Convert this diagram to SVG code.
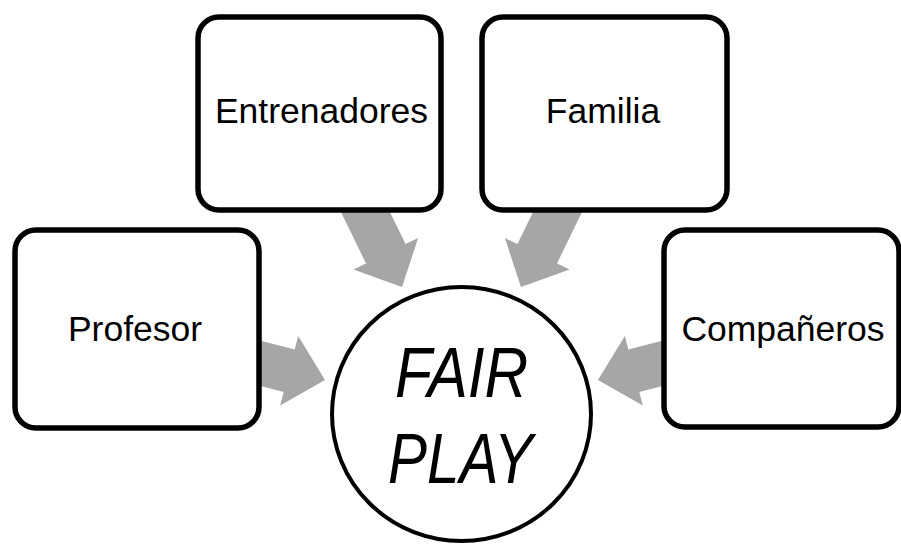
<svg xmlns="http://www.w3.org/2000/svg" width="901" height="545" viewBox="0 0 901 545">
  <style>
    .box { fill: #ffffff; stroke: #000000; stroke-width: 5.5; }
    .circ { fill: #ffffff; stroke: #000000; stroke-width: 4; }
    .lbl { font-family: "Liberation Sans", Arial, sans-serif; font-size: 35.5px; fill: #000000; text-anchor: middle; }
    .big { font-family: "Liberation Sans", Arial, sans-serif; font-size: 70px; font-style: italic; fill: #000000; text-anchor: middle; }
    .arrow { fill: #A6A6A6; }
  </style>
  <defs>
    <path id="blockArrow" class="arrow" d="M0,0 L-37,-36 L-37,-22 L-140,-22 L-140,22 L-37,22 L-37,36 Z"/>
  </defs>
  <rect width="901" height="545" fill="#ffffff"/>
  <g id="connectors">
    <use href="#blockArrow" transform="translate(402,287) rotate(64)"/>
    <use href="#blockArrow" transform="translate(521,287) rotate(116)"/>
    <use href="#blockArrow" transform="translate(325,380) rotate(14.5)"/>
    <use href="#blockArrow" transform="translate(598,380) rotate(165.5)"/>
  </g>
  <g id="entrenadores">
    <rect class="box" x="198" y="17" width="243" height="193" rx="21"/>
    <text class="lbl" x="321.5" y="123">Entrenadores</text>
  </g>
  <g id="familia">
    <rect class="box" x="482" y="17" width="245" height="193" rx="21"/>
    <text class="lbl" x="603" y="123">Familia</text>
  </g>
  <g id="profesor">
    <rect class="box" x="15" y="230" width="244" height="198" rx="21"/>
    <text class="lbl" x="135" y="341">Profesor</text>
  </g>
  <g id="companeros">
    <rect class="box" x="664" y="230" width="235" height="197" rx="21"/>
    <text class="lbl" x="783" y="341">Compañeros</text>
  </g>
  <g id="fairplay">
    <ellipse class="circ" cx="461.5" cy="414" rx="129.5" ry="127"/>
    <text class="big" x="461.5" y="397" textLength="133" lengthAdjust="spacingAndGlyphs">FAIR</text>
    <text class="big" x="460.5" y="483" textLength="145" lengthAdjust="spacingAndGlyphs">PLAY</text>
  </g>
</svg>
